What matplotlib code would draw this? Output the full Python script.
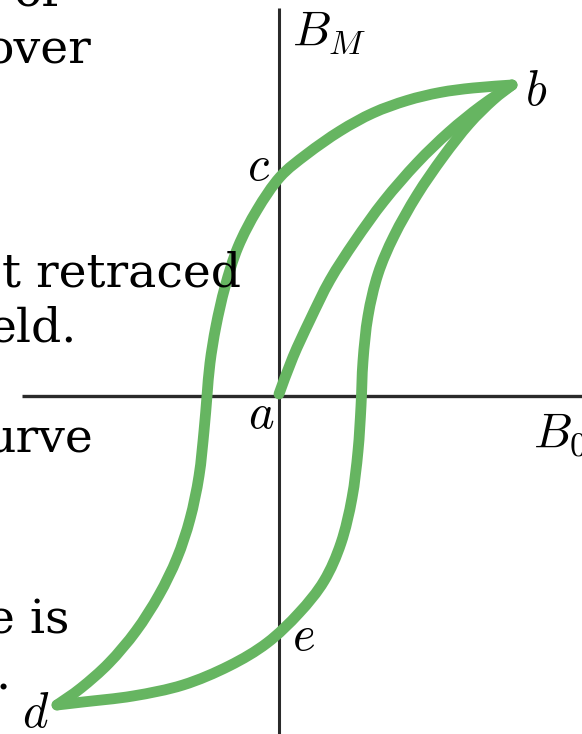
import numpy as np
import matplotlib
matplotlib.use("Agg")
import matplotlib.pyplot as plt
from matplotlib.path import Path
from matplotlib.patches import PathPatch

plt.rcParams['mathtext.fontset'] = 'cm'

# hysteresis loop, field B0 vs magnetization BM (arbitrary units)
initial_b0 = [0.0, 0.14, 0.31, 0.51, 0.76, 1.05, 1.38, 1.70, 2.02, 2.33]
initial_bm = [0.02, 0.39, 0.76, 1.16, 1.55, 1.95, 2.33, 2.64, 2.90, 3.11]

down_b0 = [2.33, 1.94, 1.61, 1.28, 0.94, 0.61, 0.28, 0.01, -0.22, -0.41, -0.54, -0.63,
           -0.69, -0.72, -0.75, -0.80, -0.89, -1.02, -1.20, -1.43, -1.70, -1.98, -2.22]
down_bm = [3.11, 3.08, 3.035, 2.955, 2.83, 2.65, 2.42, 2.19, 1.86, 1.49, 1.09, 0.70,
           0.33, 0.0, -0.35, -0.80, -1.23, -1.62, -1.99, -2.35, -2.67, -2.92, -3.09]

up_b0 = [-2.22, -1.96, -1.46, -0.96, -0.50, -0.12, 0.20, 0.45, 0.62, 0.73, 0.79,
         0.82, 0.84, 0.89, 0.99, 1.15, 1.38, 1.64, 1.90, 2.14, 2.33]
up_bm = [-3.09, -3.06, -3.00, -2.89, -2.70, -2.47, -2.17, -1.85, -1.47, -1.02, -0.55,
         -0.10, 0.35, 0.80, 1.22, 1.60, 2.01, 2.39, 2.72, 2.96, 3.11]

point_names = ['a', 'b', 'c', 'd', 'e']
point_pos = [(-0.31, -0.32), (2.46, 2.91), (-0.32, 2.16), (-2.57, -3.31), (0.13, -2.54)]

# fragments of the surrounding paragraph (right edge px, baseline px)
para_text = ['of', 'over', 't retraced', 'eld.', 'urve', 'e is', '.']
para_pos = [(60, 6), (91, 63), (241, 287), (77, 342), (93, 453), (69, 633), (11, 690)]


def smooth_path(xs, ys):
    # cubic bezier segments through the points (catmull-rom tangents)
    p = np.column_stack([xs, ys])
    verts = [p[0]]
    codes = [Path.MOVETO]
    n = len(p)
    for i in range(n - 1):
        p0 = p[max(i - 1, 0)]
        p1, p2 = p[i], p[i + 1]
        p3 = p[min(i + 2, n - 1)]
        verts += [p1 + (p2 - p0) / 6, p2 - (p3 - p1) / 6, p2]
        codes += [Path.CURVE4] * 3
    return Path(verts, codes)


W, H = 582, 734
fig = plt.figure(figsize=(W / 100, H / 100), dpi=100)
ax = fig.add_axes([0, 0, 1, 1])
ax.set_xlim(-2.79, 3.03)
ax.set_ylim(-3.38, 3.96)
ax.axis('off')

for t, (px, py) in zip(para_text, para_pos):
    fig.text(px / W, 1 - py / H, t, ha='right', va='baseline',
             family='DejaVu Serif', fontsize=34, color='black', zorder=1)

axis_col = '#2a2a2a'
ax.plot([-2.57, 3.03], [0, 0], color=axis_col, lw=2.4, zorder=2, solid_capstyle='butt')
ax.plot([0, 0], [-3.38, 3.88], color=axis_col, lw=2.2, zorder=2, solid_capstyle='butt')

green = '#66b561'
for xs, ys in [(initial_b0, initial_bm), (down_b0, down_bm), (up_b0, up_bm)]:
    ax.add_patch(PathPatch(smooth_path(xs, ys), fill=False, edgecolor=green, lw=7.8,
                           joinstyle='round', capstyle='round', zorder=3))

for name, (x, y) in zip(point_names, point_pos):
    ax.text(x, y, '$' + name + '$', fontsize=35, ha='left', va='baseline', zorder=4)

ax.text(0.13, 3.50, '$B_M$', fontsize=35, ha='left', va='baseline', zorder=4)
ax.text(2.54, -0.51, '$B_0$', fontsize=35, ha='left', va='baseline', zorder=4)

fig.savefig('out.png', dpi=100)
